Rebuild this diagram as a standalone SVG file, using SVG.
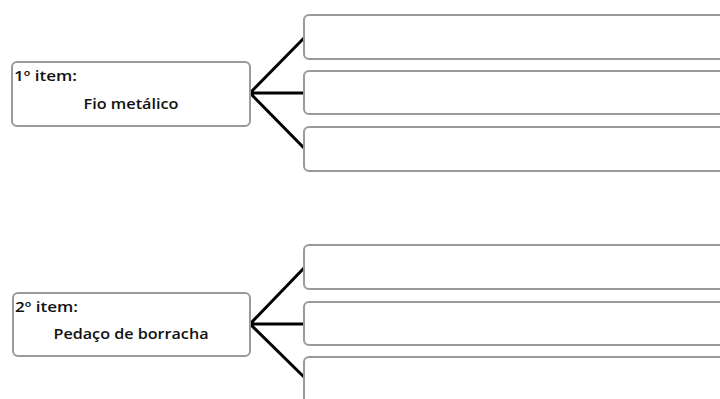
<svg xmlns="http://www.w3.org/2000/svg" width="720" height="399" viewBox="0 0 720 399">
  <style>
    .box { fill: #ffffff; stroke: #9a9a9a; stroke-width: 2; }
    .link { stroke: #000000; stroke-width: 3; fill: none; }
    .lbl { font-family: "Open Sans", "Liberation Sans", Arial, sans-serif; font-weight: 600; font-size: 14.5px; fill: #111111; }
  </style>
  <rect width="720" height="399" fill="#ffffff"/>

  <g id="connectors">
    <path class="link" d="M250 93 L304 38 M250 93 L304 93 M250 93 L304 148"/>
    <path class="link" d="M250 324 L304 268 M250 324 L304 324 M250 324 L304 377"/>
  </g>

  <g id="item1">
    <rect class="box" x="12" y="62" width="238" height="64" rx="5"/>
    <text class="lbl" x="14" y="81" textLength="63" lengthAdjust="spacingAndGlyphs">1º item:</text>
    <text class="lbl" x="131" y="109" text-anchor="middle" textLength="95" lengthAdjust="spacingAndGlyphs">Fio metálico</text>
  </g>
  <g id="item1-a"><rect class="box" x="304" y="15" width="430" height="44" rx="5"/></g>
  <g id="item1-b"><rect class="box" x="304" y="71" width="430" height="43" rx="5"/></g>
  <g id="item1-c"><rect class="box" x="304" y="127" width="430" height="44" rx="5"/></g>

  <g id="item2">
    <rect class="box" x="13" y="293" width="237" height="63" rx="5"/>
    <text class="lbl" x="15" y="312" textLength="63" lengthAdjust="spacingAndGlyphs">2º item:</text>
    <text class="lbl" x="131" y="339" text-anchor="middle" textLength="155" lengthAdjust="spacingAndGlyphs">Pedaço de borracha</text>
  </g>
  <g id="item2-a"><rect class="box" x="304" y="245" width="430" height="44" rx="5"/></g>
  <g id="item2-b"><rect class="box" x="304" y="302" width="430" height="43" rx="5"/></g>
  <g id="item2-c"><rect class="box" x="304" y="357" width="430" height="60" rx="5"/></g>
</svg>
